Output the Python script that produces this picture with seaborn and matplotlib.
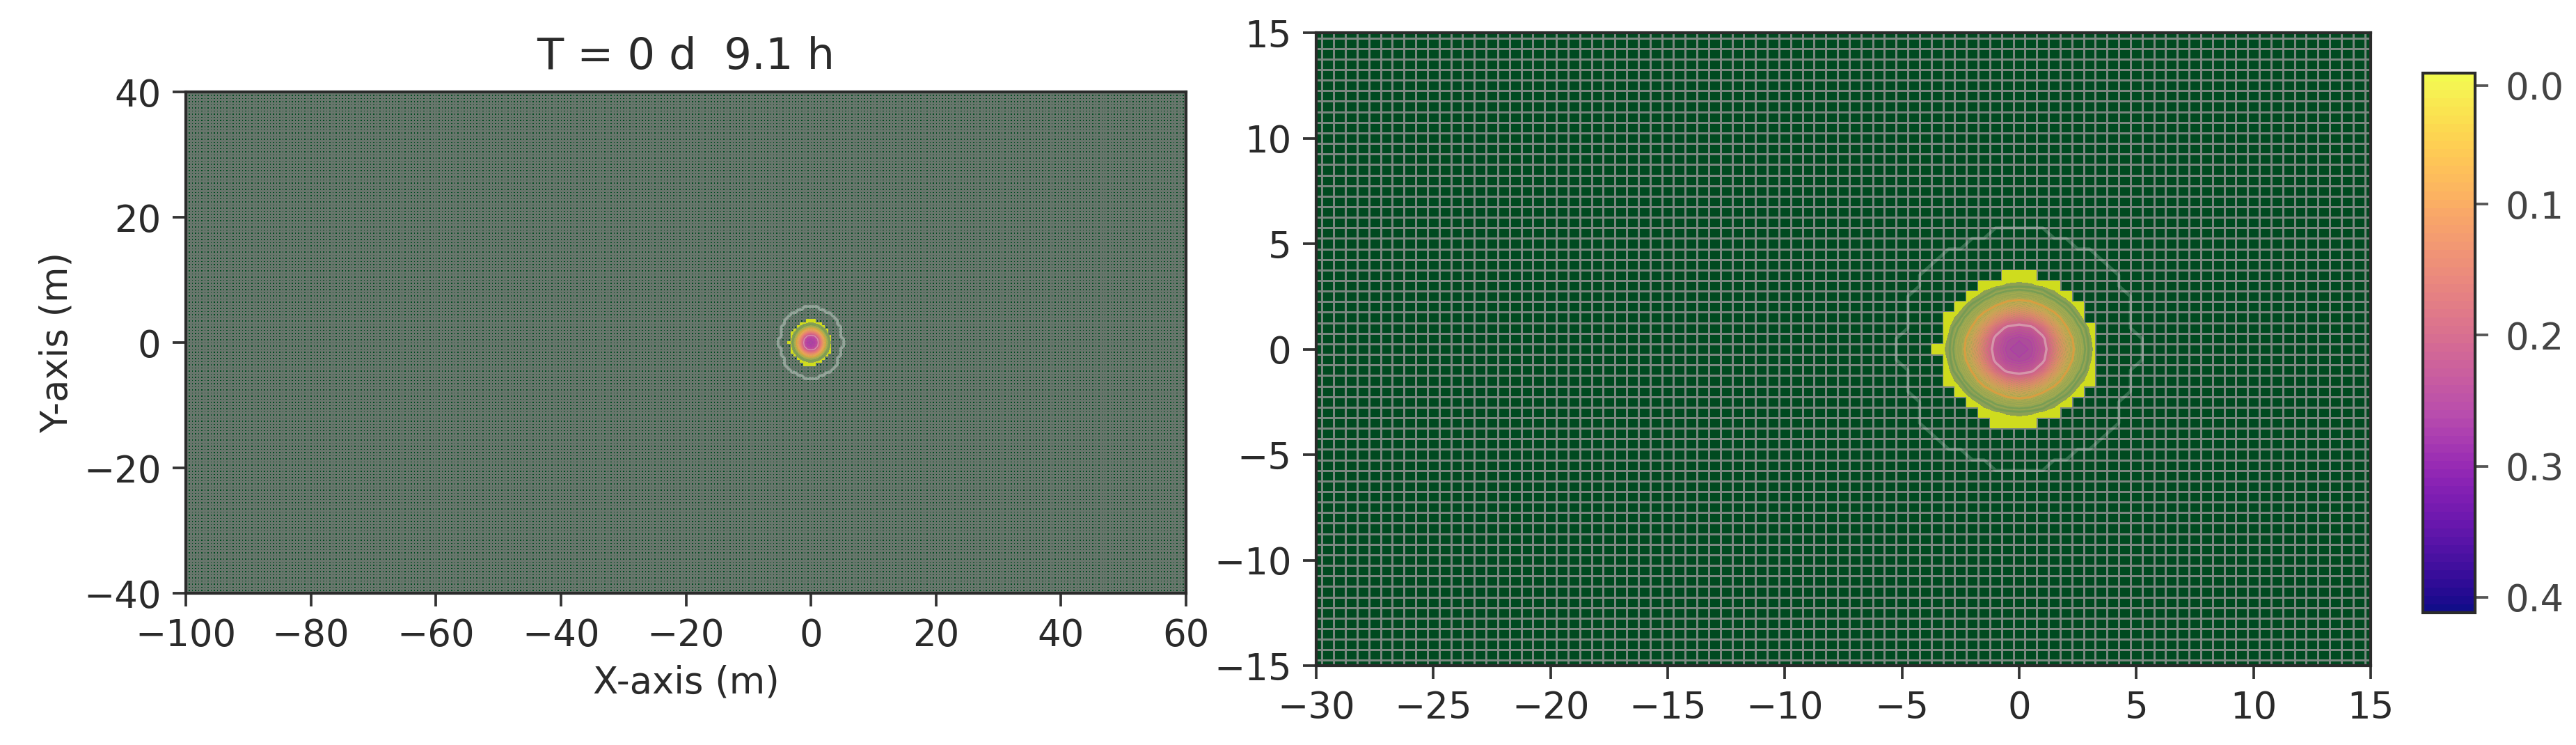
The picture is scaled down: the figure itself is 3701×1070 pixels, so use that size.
import numpy as np
import pandas as pd
import matplotlib
matplotlib.use('Agg')
import matplotlib.pyplot as plt
import seaborn as sns
from matplotlib.cm import ScalarMappable
from matplotlib.colors import BoundaryNorm, ListedColormap, to_rgba

# Depth, in mm, on the 0.5 m mesh around the origin
patch_x = [-6.0 + 0.5 * i for i in range(25)]
patch_y = [6.0 - 0.5 * i for i in range(25)]
depth_mm = [
    [0, 0, 0, 0, 0, 0, 0, 0, 0, 0, 0, 0, 0, 0, 0, 0, 0, 0, 0, 0, 0, 0, 0, 0, 0],
    [0, 0, 0, 0, 0, 0, 0, 0, 0, 0, 2, 2, 2, 2, 2, 0, 0, 0, 0, 0, 0, 0, 0, 0, 0],
    [0, 0, 0, 0, 0, 0, 0, 0, 2, 2, 2, 2, 2, 2, 2, 2, 2, 0, 0, 0, 0, 0, 0, 0, 0],
    [0, 0, 0, 0, 0, 0, 2, 2, 2, 2, 2, 2, 2, 2, 2, 2, 2, 2, 2, 0, 0, 0, 0, 0, 0],
    [0, 0, 0, 0, 0, 2, 2, 2, 2, 2, 2, 2, 2, 2, 2, 2, 2, 2, 2, 2, 0, 0, 0, 0, 0],
    [0, 0, 0, 0, 2, 2, 2, 2, 2, 2, 2, 6, 6, 6, 2, 2, 2, 2, 2, 2, 2, 0, 0, 0, 0],
    [0, 0, 0, 0, 2, 2, 2, 2, 2, 8, 12, 16, 18, 16, 12, 8, 2, 2, 2, 2, 2, 0, 0, 0, 0],
    [0, 0, 0, 2, 2, 2, 2, 2, 10, 20, 35, 45, 50, 45, 35, 20, 10, 2, 2, 2, 2, 2, 0, 0, 0],
    [0, 0, 0, 2, 2, 2, 2, 10, 25, 50, 75, 100, 110, 100, 75, 50, 25, 10, 2, 2, 2, 2, 0, 0, 0],
    [0, 0, 0, 2, 2, 2, 8, 20, 50, 90, 135, 165, 175, 165, 135, 90, 50, 20, 2, 2, 2, 2, 0, 0, 0],
    [0, 0, 0, 2, 2, 2, 12, 35, 75, 135, 190, 225, 235, 225, 190, 135, 75, 35, 12, 2, 2, 2, 0, 0, 0],
    [0, 0, 2, 2, 2, 2, 16, 45, 100, 165, 225, 255, 262, 255, 225, 165, 100, 45, 16, 2, 2, 2, 2, 0, 0],
    [0, 0, 2, 2, 2, 6, 18, 50, 110, 175, 235, 262, 270, 262, 235, 175, 110, 50, 18, 2, 2, 2, 2, 0, 0],
    [0, 0, 2, 2, 2, 2, 16, 45, 100, 165, 225, 255, 262, 255, 225, 165, 100, 45, 16, 2, 2, 2, 2, 0, 0],
    [0, 0, 0, 2, 2, 2, 12, 35, 75, 135, 190, 225, 235, 225, 190, 135, 75, 35, 12, 2, 2, 2, 0, 0, 0],
    [0, 0, 0, 2, 2, 2, 8, 20, 50, 90, 135, 165, 175, 165, 135, 90, 50, 20, 8, 2, 2, 2, 0, 0, 0],
    [0, 0, 0, 2, 2, 2, 2, 10, 25, 50, 75, 100, 110, 100, 75, 50, 25, 10, 2, 2, 2, 2, 0, 0, 0],
    [0, 0, 0, 0, 2, 2, 2, 2, 10, 20, 35, 45, 50, 45, 35, 20, 10, 2, 2, 2, 2, 0, 0, 0, 0],
    [0, 0, 0, 0, 2, 2, 2, 2, 2, 8, 12, 16, 18, 16, 12, 8, 2, 2, 2, 2, 2, 0, 0, 0, 0],
    [0, 0, 0, 0, 2, 2, 2, 2, 2, 2, 6, 6, 6, 6, 2, 2, 2, 2, 2, 2, 2, 0, 0, 0, 0],
    [0, 0, 0, 0, 0, 2, 2, 2, 2, 2, 2, 2, 2, 2, 2, 2, 2, 2, 2, 2, 0, 0, 0, 0, 0],
    [0, 0, 0, 0, 0, 0, 2, 2, 2, 2, 2, 2, 2, 2, 2, 2, 2, 2, 2, 0, 0, 0, 0, 0, 0],
    [0, 0, 0, 0, 0, 0, 0, 0, 2, 2, 2, 2, 2, 2, 2, 2, 2, 0, 0, 0, 0, 0, 0, 0, 0],
    [0, 0, 0, 0, 0, 0, 0, 0, 0, 0, 2, 2, 2, 2, 2, 0, 0, 0, 0, 0, 0, 0, 0, 0, 0],
    [0, 0, 0, 0, 0, 0, 0, 0, 0, 0, 0, 0, 0, 0, 0, 0, 0, 0, 0, 0, 0, 0, 0, 0, 0],
]

left_xticks = [-100, -80, -60, -40, -20, 0, 20, 40, 60]
left_yticks = [40, 20, 0, -20, -40]
right_xticks = [-30, -25, -20, -15, -10, -5, 0, 5, 10, 15]
right_yticks = [15, 10, 5, 0, -5, -10, -15]
cbar_ticks = [0.0095, 0.1, 0.2, 0.3, 0.4]
cbar_labels = ['0.0', '0.1', '0.2', '0.3', '0.4']
title_text = 'T = 0 d  9.1 h'

W, H = 3701, 1070
CELL = 0.5
WET_MM = 5


def to_index(values, start, step):
    return (np.asarray(values, dtype=float) - start) / step + 0.5


def draw_panel(ax, xticks, yticks, mesh_lw, mesh_color, ring_alpha, ring_lw, line_scale):
    xs = np.arange(min(xticks), max(xticks) + CELL, CELL)
    ys = np.arange(max(yticks), min(yticks) - CELL, -CELL)
    field = pd.DataFrame(np.zeros((len(ys), len(xs))), index=ys, columns=xs)
    patch = pd.DataFrame(np.array(depth_mm, dtype=float) / 1000.0, index=patch_y, columns=patch_x)
    field.loc[patch.index, patch.columns] = patch

    # mesh on the dry ground, then the wet cells over it
    sns.heatmap(np.zeros(field.shape), ax=ax, cmap=ListedColormap(['#004a20']), cbar=False,
                linewidths=mesh_lw, linecolor=mesh_color, xticklabels=False, yticklabels=False)
    sns.heatmap(np.ones(field.shape), mask=field.values < WET_MM / 1000.0, ax=ax,
                cmap=ListedColormap(['#cfdc1e']), cbar=False, xticklabels=False, yticklabels=False)

    px = to_index(patch_x, xs[0], CELL)
    py = (np.array(patch_y) - ys[0]) / -CELL + 0.5
    z = patch.values
    ax.contourf(px, py, z, levels=[0.014, 0.5], colors=['#84985c'], alpha=0.88)
    ax.contourf(px, py, z, levels=fill_levels, cmap=fill_cmap, norm=fill_norm, extend='neither')
    ax.contour(px, py, z, levels=[0.001], colors=[(0.85, 0.9, 0.87, ring_alpha)], linewidths=ring_lw)
    ax.contour(px, py, z, levels=[0.02, 0.03], colors=['#6d9a55'], linewidths=0.7 * line_scale, alpha=0.7)
    ax.contour(px, py, z, levels=[0.07], colors=['#e89a3c'], linewidths=0.7 * line_scale, alpha=0.75)
    ax.contour(px, py, z, levels=[0.215], colors=['#d8a0b0'], linewidths=0.8 * line_scale, alpha=0.85)

    ax.set_xlim(0.5, len(xs) - 0.5)
    ax.set_ylim(len(ys) - 0.5, 0.5)
    ax.set_xticks(to_index(xticks, xs[0], CELL))
    ax.set_xticklabels([str(t).replace('-', '\u2212') for t in xticks], rotation=0)
    ax.set_yticks((max(yticks) - np.array(yticks, dtype=float)) / CELL + 0.5)
    ax.set_yticklabels([str(t).replace('-', '\u2212') for t in yticks], rotation=0)
    ax.tick_params(length=4.5, width=0.9, color='#333333', labelcolor='#2a2a2a', labelsize=12.7, pad=4,
                   bottom=True, left=True)
    for s in ax.spines.values():
        s.set_visible(True)
        s.set_linewidth(1.0)
        s.set_color('#2b2b2b')


sns.set_theme(style='ticks', font='DejaVu Sans')

# colours of the depth scale: plasma reversed, see-through at shallow depth
n_bands = 64
band_edges = np.linspace(0.0, 0.4117, n_bands + 1)
base = plt.get_cmap('plasma_r')(np.linspace(0, 1, n_bands))
fill_levels = band_edges[band_edges > 0.02]
fill_rgba = base.copy()
fill_rgba[:, :3] = fill_rgba[:, :3] * 0.86 + 0.14
fill_rgba[:, 3] = np.clip(-0.1 + 4.5 * np.linspace(0, 0.4117, n_bands), 0.1, 0.85)
fill_cmap = ListedColormap(fill_rgba)
fill_norm = BoundaryNorm(band_edges, n_bands)

fig = plt.figure(figsize=(W / 300, H / 300), dpi=300)


def place(l, t, r, b):
    return fig.add_axes([l / W, 1 - b / H, (r - l) / W, (b - t) / H])


ax1 = place(267, 132, 1704, 852)
ax2 = place(1891, 47, 3406, 956)
cax = place(3481, 105, 3556, 880)

draw_panel(ax1, left_xticks, left_yticks, 0.6, '#68766c', 0.42, 1.0, 0.4)
draw_panel(ax2, right_xticks, right_yticks, 0.72, '#7b8780', 0.24, 1.1, 1.0)

ax1.set_title(title_text, fontsize=15, color='#2a2a2a', pad=8)
ax1.set_xlabel('X-axis (m)', fontsize=12.7, color='#2a2a2a', labelpad=3.5)
ax1.set_ylabel('Y-axis (m)', fontsize=12.7, color='#2a2a2a', labelpad=3)

# washed out in the middle of the bar, full colour at the deep end
bar_rgba = base.copy()
wash = 0.2 * np.clip((0.4117 - np.linspace(0, 0.4117, n_bands)) / 0.15, 0.1, 1)
bar_rgba[:, :3] = bar_rgba[:, :3] * (1 - wash[:, None]) + wash[:, None]
cbar_cmap = ListedColormap(bar_rgba)
sm = ScalarMappable(norm=fill_norm, cmap=cbar_cmap)
cb = fig.colorbar(sm, cax=cax, spacing='proportional', drawedges=True)
cb.dividers.set_color(to_rgba('#301040', 0.16))
cb.dividers.set_linewidth(0.6)
cb.ax.invert_yaxis()
cb.set_ticks(cbar_ticks)
cb.set_ticklabels(cbar_labels)
cb.ax.minorticks_off()
cb.ax.tick_params(length=4.5, width=0.9, color='#555555', labelcolor='#444444', labelsize=12.7, pad=6)
cb.outline.set_linewidth(1.0)
cb.outline.set_edgecolor('#2b2b2b')

fig.savefig('out.png', dpi=300)
